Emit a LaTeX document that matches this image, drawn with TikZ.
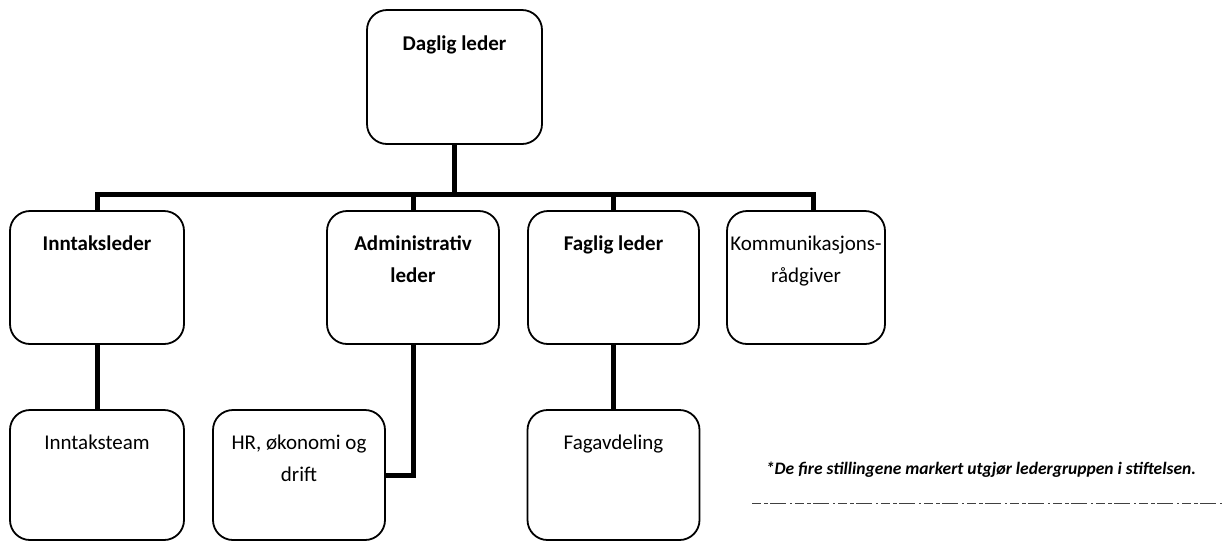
\documentclass[tikz,border=0pt]{standalone}
\usepackage{fontspec}
\setmainfont{Carlito}
\begin{document}
\begin{tikzpicture}[x=1pt,y=-1pt,
	box/.style={draw,rounded corners=20pt,line width=1.8pt,minimum width=172pt,minimum height=133pt},
	low/.style={box,minimum height=130pt},
	txt/.style={font=\fontsize{21}{32}\selectfont,align=center,anchor=base,yshift=-40pt},
	head/.style={txt,font=\bfseries\fontsize{21}{32}\selectfont},
	second/.style={yshift=-32pt},
	link/.style={line width=5pt}]
	\useasboundingbox (0,0) rectangle (1223,542);
	\node[box,minimum width=175pt,minimum height=134pt,label={[head,yshift=-1pt]north:Daglig leder}] (daglig) at (454.5,77) {};
	\node[box,minimum width=174pt,label={[head]north:Inntaksleder}] (inntak) at (97,277.5) {};
	\node[box,label={[head,second]north:Administrativ\\leder}] (admin) at (413,277.5) {};
	\node[box,minimum width=171pt,label={[head]north:Faglig leder}] (faglig) at (613.5,277.5) {};
	\node[box,minimum width=158pt,label={[txt,second]north:Kommunikasjons-\\rådgiver}] (komm) at (806,277.5) {};
	\node[low,minimum width=174pt,label={[txt]north:Inntaksteam}] (team) at (97,475) {};
	\node[low,label={[txt,second]north:HR, økonomi og\\drift}] (hr) at (299,475) {};
	\node[low,label={[txt]north:Fagavdeling}] (fagavd) at (613.5,475) {};
	\coordinate (bar) at (813,194);
	\draw[link] (inntak.north) |- (bar) -- (bar |- komm.north);
	\draw[link] (daglig.south) -- (daglig.south |- bar);
	\draw[link] (admin.north) -- (admin.north |- bar);
	\draw[link] (faglig.north) -- (faglig.north |- bar);
	\draw[link] (inntak.south) -- (team.north);
	\draw[link] (admin.south) |- (hr.east);
	\draw[link] (faglig.south) -- (fagavd.north);
	\node[font=\bfseries\itshape\fontsize{17.5}{20}\selectfont] (note) at (981,470) {*De fire stillingene markert utgjør ledergruppen i stiftelsen.};
	\draw[line width=1pt,black!75,dash pattern=on 9pt off 3pt on 4pt off 2pt on 16pt off 4pt on 2pt off 3pt] (752,503) -- (1223,503);
\end{tikzpicture}
\end{document}
